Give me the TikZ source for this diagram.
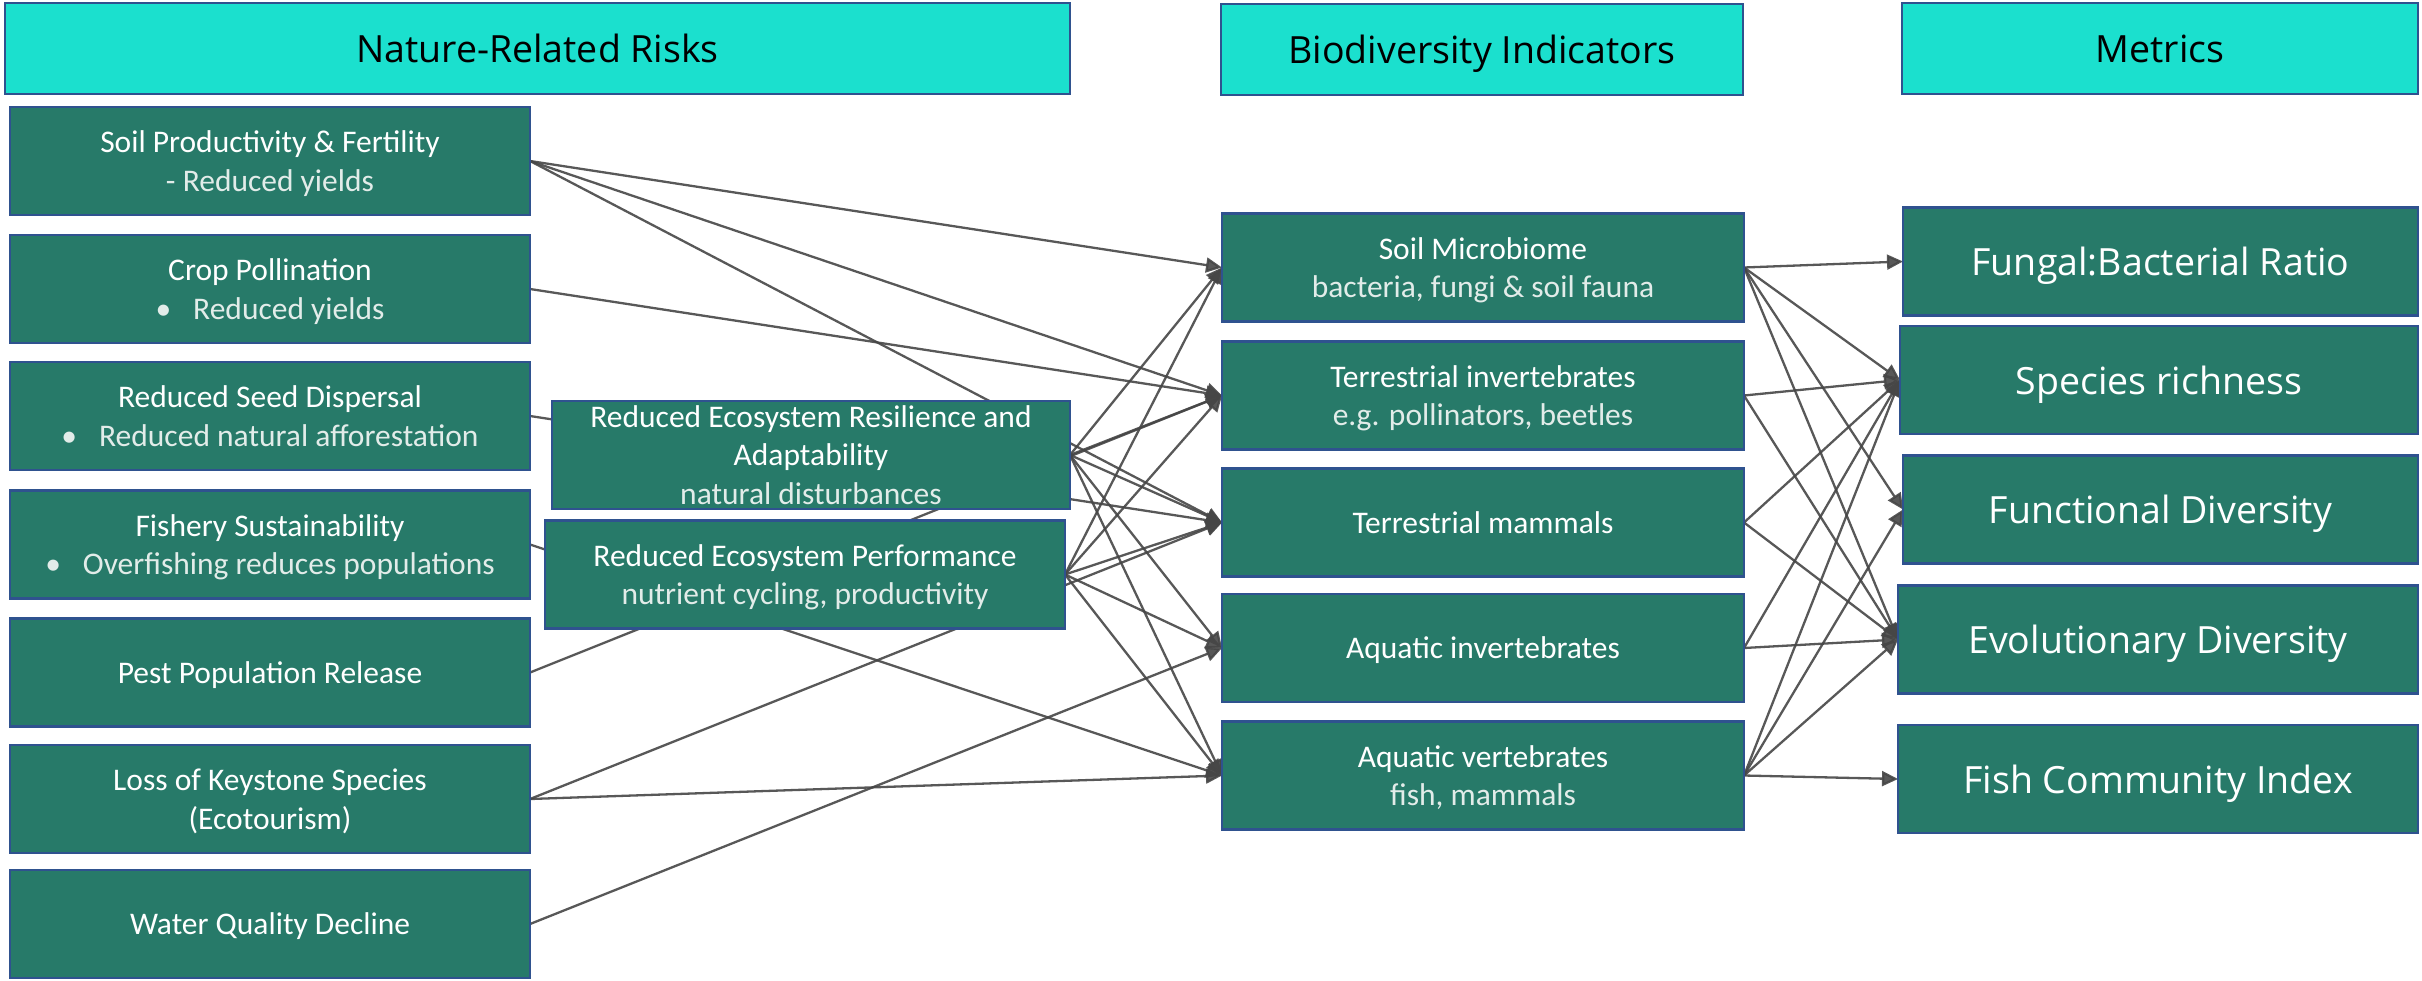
\documentclass[tikz,border=0pt]{standalone}
\usepackage{fontspec}
\setmainfont{Carlito}
\newfontfamily\metricfont{Open Sans}
\usetikzlibrary{arrows.meta,backgrounds}

\definecolor{headfill}{HTML}{1BE0CE}
\definecolor{boxfill}{HTML}{277A69}
\definecolor{boxline}{HTML}{2F528F}
\definecolor{linkgray}{HTML}{464646}
\definecolor{subwhite}{HTML}{E2ECE9}

\tikzset{
	header/.style={draw=boxline, fill=headfill, line width=2.5pt, minimum height=91pt, text depth=0pt, font=\metricfont\fontsize{37.5}{40}\selectfont, text=black},
	riskbox/.style={draw=boxline, fill=boxfill, line width=2.5pt, minimum height=108pt, inner sep=0pt, text depth=0pt, text=white, align=center, font=\fontsize{31.5}{38.5}\selectfont},
	metricbox/.style={riskbox, font=\metricfont\fontsize{37.5}{42}\selectfont},
	link/.style={draw=linkgray, line width=2.3pt, opacity=0.9, -{Triangle[length=16pt,width=15pt]}},
}

\begin{document}
\begin{tikzpicture}[x=1pt, y=-1pt, every node/.style={outer sep=0pt, anchor=west}, line join=miter]
	\useasboundingbox (0,0) rectangle (2422,980);
	
	% Kopfzeilen
	\node[header, minimum width=1065pt] (hrisk) at (5, 48.5) {Nature-Related Risks};
	\node[header, minimum width=522pt] (hind) at (1221, 49.5) {Biodiversity Indicators};
	\node[header, minimum width=516pt] (hmet) at (1902, 48.5) {Metrics};
	
	% Risiken
	\node[riskbox, minimum width=520pt] (soilprod) at (10, 161) {Soil Productivity \& Fertility\\{\color{subwhite}- Reduced yields}};
	\node[riskbox, minimum width=520pt] (croppol) at (10, 289) {Crop Pollination\\{\color{subwhite}•\hspace{22pt}Reduced yields}};
	\node[riskbox, minimum width=520pt] (seeddisp) at (10, 416) {Reduced Seed Dispersal\\{\color{subwhite}•\hspace{22pt}Reduced natural afforestation}};
	\node[riskbox, minimum width=520pt] (fishery) at (10, 544.5) {Fishery Sustainability\\{\color{subwhite}•\hspace{22pt}Overfishing reduces populations}};
	\node[riskbox, minimum width=520pt] (pestpop) at (10, 672.5) {Pest Population Release};
	\node[riskbox, minimum width=520pt] (keystone) at (10, 799) {Loss of Keystone Species\\(Ecotourism)};
	\node[riskbox, minimum width=520pt] (waterq) at (10, 924) {Water Quality Decline};
	
	% Oekosystem
	\node[riskbox, minimum width=518pt] (resil) at (552, 455) {Reduced Ecosystem Resilience and\\Adaptability\\{\color{subwhite}natural disturbances}};
	\node[riskbox, minimum width=520pt] (perform) at (545, 574.5) {Reduced Ecosystem Performance\\{\color{subwhite}nutrient cycling, productivity}};
	
	% Indikatoren
	\node[riskbox, minimum width=522pt] (soilmic) at (1222, 267.5) {Soil Microbiome\\{\color{subwhite}bacteria, fungi \& soil fauna}};
	\node[riskbox, minimum width=522pt] (terrinv) at (1222, 395.5) {Terrestrial invertebrates\\{\color{subwhite}e.g. pollinators, beetles}};
	\node[riskbox, minimum width=522pt] (terrmam) at (1222, 522.5) {Terrestrial mammals};
	\node[riskbox, minimum width=522pt] (aquainv) at (1222, 648) {Aquatic invertebrates};
	\node[riskbox, minimum width=522pt] (aquavert) at (1222, 775.5) {Aquatic vertebrates\\{\color{subwhite}fish, mammals}};
	
	% Kennzahlen
	\node[metricbox, minimum width=515pt] (fungal) at (1903, 261.5) {Fungal:Bacterial Ratio};
	\node[metricbox, minimum width=518pt] (species) at (1900, 380) {Species richness};
	\node[metricbox, minimum width=515pt] (functional) at (1903, 509.5) {Functional Diversity};
	\node[metricbox, minimum width=520pt] (evolution) at (1898, 639.5) {Evolutionary Diversity};
	\node[metricbox, minimum width=520pt] (fishidx) at (1898, 779) {Fish Community Index};
	
	% Verbindungen
	\begin{scope}[on background layer]
		\draw[link] (soilprod.east) -- (soilmic.west);
		\draw[link] (soilprod.east) -- (terrinv.west);
		\draw[link] (soilprod.east) -- (terrmam.west);
		\draw[link] (croppol.east) -- (terrinv.west);
		\draw[link] (seeddisp.east) -- (terrmam.west);
		\draw[link] (fishery.east) -- (aquavert.west);
		\draw[link] (pestpop.east) -- (terrinv.west);
		\draw[link] (keystone.east) -- (terrmam.west);
		\draw[link] (keystone.east) -- (aquavert.west);
		\draw[link] (waterq.east) -- (aquainv.west);
		
		\draw[link] (resil.east) -- (soilmic.west);
		\draw[link] (resil.east) -- (terrinv.west);
		\draw[link] (resil.east) -- (terrmam.west);
		\draw[link] (resil.east) -- (aquainv.west);
		\draw[link] (resil.east) -- (aquavert.west);
		\draw[link] (perform.east) -- (soilmic.west);
		\draw[link] (perform.east) -- (terrinv.west);
		\draw[link] (perform.east) -- (terrmam.west);
		\draw[link] (perform.east) -- (aquainv.west);
		\draw[link] (perform.east) -- (aquavert.west);
		
		\draw[link] (soilmic.east) -- (fungal.west);
		\draw[link] (soilmic.east) -- (species.west);
		\draw[link] (soilmic.east) -- (functional.west);
		\draw[link] (soilmic.east) -- (evolution.west);
		\draw[link] (terrinv.east) -- (species.west);
		\draw[link] (terrinv.east) -- (evolution.west);
		\draw[link] (terrmam.east) -- (species.west);
		\draw[link] (terrmam.east) -- (evolution.west);
		\draw[link] (aquainv.east) -- (species.west);
		\draw[link] (aquainv.east) -- (evolution.west);
		\draw[link] (aquavert.east) -- (species.west);
		\draw[link] (aquavert.east) -- (functional.west);
		\draw[link] (aquavert.east) -- (evolution.west);
		\draw[link] (aquavert.east) -- (fishidx.west);
	\end{scope}
	
\end{tikzpicture}
\end{document}
